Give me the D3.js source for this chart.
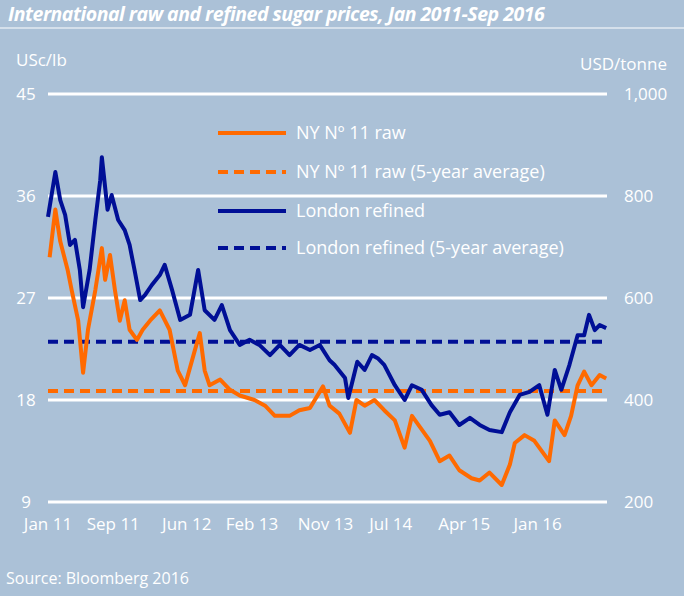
<!DOCTYPE html>
<html><head><meta charset="utf-8">
<script src="https://cdn.jsdelivr.net/npm/d3@7"></script>
<style>
body{margin:0;background:#abc1d7;}
text{font-family:"Open Sans",sans-serif;fill:#fff;}
</style></head><body>
<svg id="chart" width="684" height="596"></svg>
<script>
// months counted from Jan 2011
const tickMonths = [0, 8, 17, 25, 34, 42, 51, 60];
const tickLabels = ['Jan 11', 'Sep 11', 'Jun 12', 'Feb 13', 'Nov 13', 'Jul 14', 'Apr 15', 'Jan 16'];
const leftTicks = [9, 18, 27, 36, 45];
const rightTicks = [200, 400, 600, 800, 1000];

// NY No 11 raw, USc/lb
const nyMonths = [0.2,0.9,1.5,2.4,2.9,3.7,4.3,4.9,5.8,6.6,7.0,7.6,8.2,8.8,9.4,10.0,10.9,11.6,12.5,13.7,14.9,15.9,16.8,18.0,18.6,19.2,19.8,21.1,22.3,23.5,25.3,26.6,27.8,29.6,30.8,32.1,33.7,34.5,35.7,37.0,37.8,38.8,40.0,41.2,42.5,43.7,44.6,45.5,46.8,48.0,49.2,50.4,51.9,52.9,54.1,55.6,56.6,57.2,58.4,59.6,61.4,62.1,63.3,64.1,64.9,65.7,66.6,67.6,68.4];
const nyValues = [30.6,34.8,32,29.5,27.7,25,20.4,24.2,27.7,31.4,28.6,30.8,27.7,25,26.8,24.2,23.3,24.2,25,25.9,24.2,20.6,19.3,22.4,23.9,20.6,19.3,19.8,18.9,18.4,18,17.5,16.6,16.6,17.1,17.3,19.2,17.5,16.8,15.1,18,17.5,18,17.1,16.2,13.8,16.6,15.7,14.4,12.6,13.1,11.8,11.1,10.9,11.6,10.5,12.3,14.2,14.9,14.4,12.6,16.2,14.9,16.6,19.3,20.5,19.3,20.2,19.9];
const nyAverage = 18.8;

// London refined, USD/tonne
const ldnMonths = [0,0.9,1.5,2.1,2.7,3.3,3.9,4.3,5.1,5.8,6.4,6.6,7.3,7.8,8.6,9.4,10.0,10.6,11.3,11.9,12.7,13.7,14.3,15.2,16.2,17.4,18.4,19.2,20.4,21.3,22.3,23.5,24.7,25.9,27.2,28.4,29.6,30.8,32.1,33.3,34.5,35.1,36.4,36.8,37.9,38.8,39.7,40.4,41.2,42.5,43.7,44.6,45.8,47.0,48.0,49.2,50.4,51.7,52.9,54.1,55.6,56.6,57.8,59.0,60.2,61.2,62.1,62.9,63.9,64.9,65.7,66.3,67.0,67.6,68.4];
const ldnValues = [759,847,792,763,704,714,655,582,655,753,831,876,773,802,753,733,704,655,596,606,625,645,665,616,557,567,655,576,557,586,537,508,518,508,488,508,488,508,498,508,478,469,443,404,475,459,488,482,469,429,400,429,420,390,371,376,351,365,351,341,337,376,410,416,429,371,459,420,469,527,527,567,537,547,541];
const ldnAverage = 514;

const legendNames = ['NY Nº 11 raw', 'NY Nº 11 raw (5-year average)', 'London refined', 'London refined (5-year average)'];
const orange = '#ff6a00', navy = '#000f96';

const svg = d3.select('#chart');
const x = d3.scaleLinear().domain([0, 68.5]).range([48, 607]);
const yL = d3.scaleLinear().domain([9, 45]).range([502, 94]);
const yR = d3.scaleLinear().domain([200, 1000]).range([502, 94]);

// title
svg.append('text').attr('x', 8).attr('y', 21).text('International raw and refined sugar prices, Jan 2011-Sep 2016')
    .style('font-size', '19.5px').style('font-style', 'italic').style('font-weight', 'bold').style('letter-spacing', '-0.5px');
svg.append('line').attr('x1', 0).attr('x2', 684).attr('y1', 28).attr('y2', 28).attr('stroke', '#fff').attr('stroke-width', 1);

svg.append('text').attr('x', 16).attr('y', 66).text('USc/lb').style('font-size', '17px');
svg.append('text').attr('x', 667).attr('y', 70).attr('text-anchor', 'end').text('USD/tonne').style('font-size', '17px');

// gridlines + tick labels
svg.selectAll('.grid').data(leftTicks).join('line')
    .attr('x1', 48).attr('x2', 607).attr('y1', d => yL(d)).attr('y2', d => yL(d))
    .attr('stroke', '#fff').attr('stroke-width', 3);
svg.selectAll('.lt').data(leftTicks).join('text')
    .attr('x', 26).attr('y', d => yL(d) + 6).attr('text-anchor', 'middle').text(d => d).style('font-size', '17px');
svg.selectAll('.rt').data(rightTicks).join('text')
    .attr('x', 624).attr('y', d => yR(d) + 6).text(d3.format(',')).style('font-size', '17px');
svg.selectAll('.xt').data(tickMonths).join('text')
    .attr('x', d => x(d)).attr('y', 530).attr('text-anchor', 'middle')
    .text((d, i) => tickLabels[i]).style('font-size', '17px');

svg.append('text').attr('x', 6).attr('y', 584).text('Source: Bloomberg 2016').style('font-size', '16px');

// averages
svg.append('line').attr('x1', 48).attr('x2', 607).attr('y1', yL(nyAverage)).attr('y2', yL(nyAverage))
    .attr('stroke', orange).attr('stroke-width', 4).attr('stroke-dasharray', '10,6');
svg.append('line').attr('x1', 48).attr('x2', 607).attr('y1', yR(ldnAverage)).attr('y2', yR(ldnAverage))
    .attr('stroke', navy).attr('stroke-width', 4).attr('stroke-dasharray', '10,6');

// series
const ldnLine = d3.line().x(d => x(d[0])).y(d => yR(d[1]));
svg.append('path').datum(d3.zip(ldnMonths, ldnValues)).attr('d', ldnLine)
    .attr('fill', 'none').attr('stroke', navy).attr('stroke-width', 4).attr('stroke-linejoin', 'round');
const nyLine = d3.line().x(d => x(d[0])).y(d => yL(d[1]));
svg.append('path').datum(d3.zip(nyMonths, nyValues)).attr('d', nyLine)
    .attr('fill', 'none').attr('stroke', orange).attr('stroke-width', 4).attr('stroke-linejoin', 'round');

// legend
const legendY = [133, 172, 211, 248];
const legendStyle = [[orange, null], [orange, '10,6'], [navy, null], [navy, '10,6']];
legendNames.forEach((name, i) => {
    svg.append('line').attr('x1', 218).attr('x2', 286).attr('y1', legendY[i]).attr('y2', legendY[i])
        .attr('stroke', legendStyle[i][0]).attr('stroke-width', 4).attr('stroke-dasharray', legendStyle[i][1]);
    svg.append('text').attr('x', 296).attr('y', legendY[i] + 6).text(name).style('font-size', '18px');
});
</script>
</body></html>
